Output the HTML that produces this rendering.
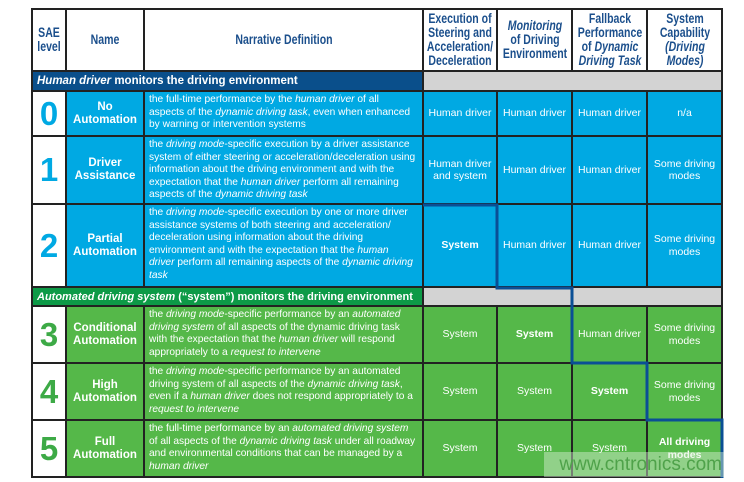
<!DOCTYPE html><html><head><meta charset="utf-8"><style>
body{margin:0;width:744px;height:482px;background:#fff;position:relative;overflow:hidden;font-family:"Liberation Sans",sans-serif}
.c{position:absolute;display:flex;align-items:center;justify-content:center;text-align:center;box-sizing:border-box}
.h{background:#fff;color:#1b4f8c;font-weight:bold;font-size:13.5px;line-height:14px}
.h span{display:inline-block;transform:scaleX(.78);width:92px;flex:none}
.b{background:#00a9e3;color:#fff}
.g{background:#55b849;color:#fff}
.n{background:#fff;font-weight:bold;font-size:33px}
.nm{font-weight:bold;font-size:11.5px;line-height:13px}
.d{justify-content:flex-start;text-align:left;font-size:10.2px;line-height:12.6px;padding:0 4px;align-items:flex-start;padding-top:2px;white-space:nowrap;overflow:hidden}
.v{font-size:10.5px;line-height:12.5px}
.w{font-weight:bold}
</style></head><body>
<div style="position:absolute;left:31px;top:8px;width:692px;height:470px;background:#222"></div>
<div class="c h" style="left:33px;top:10px;width:32px;height:60px"><span style="width:40px">SAE<br>level</span></div>
<div class="c h" style="left:67px;top:10px;width:76px;height:60px"><span>Name</span></div>
<div class="c h" style="left:145px;top:10px;width:277px;height:60px"><span style="width:300px">Narrative Definition</span></div>
<div class="c h" style="left:424px;top:10px;width:72px;height:60px"><span>Execution of Steering and Acceleration/ Deceleration</span></div>
<div class="c h" style="left:498px;top:10px;width:73px;height:60px"><span><i>Monitoring</i><br>of Driving Environment</span></div>
<div class="c h" style="left:573px;top:10px;width:73px;height:60px"><span>Fallback Performance of <i>Dynamic Driving Task</i></span></div>
<div class="c h" style="left:648px;top:10px;width:73px;height:60px"><span>System Capability <i>(Driving Modes)</i></span></div>
<div class="c" style="left:33px;top:72px;width:389px;height:18px;background:#0a4f8b;color:#fff;font-weight:bold;font-size:11.5px;justify-content:flex-start;padding-left:4px"><span><i>Human driver</i> monitors the driving environment</span></div>
<div class="c" style="left:424px;top:72px;width:297px;height:18px;background:#d3d3d3"></div>
<div class="c n" style="left:33px;top:92px;width:32px;height:43px;color:#00a9e3">0</div>
<div class="c b nm" style="left:67px;top:92px;width:76px;height:43px">No<br>Automation</div>
<div class="c b d" style="left:145px;top:92px;width:277px;height:43px"><span>the full-time performance by the <i>human driver</i> of all<br>aspects of the <i>dynamic driving task</i>, even when enhanced<br>by warning or intervention systems</span></div>
<div class="c b v" style="left:424px;top:92px;width:72px;height:43px">Human driver</div>
<div class="c b v" style="left:498px;top:92px;width:73px;height:43px">Human driver</div>
<div class="c b v" style="left:573px;top:92px;width:73px;height:43px">Human driver</div>
<div class="c b v" style="left:648px;top:92px;width:73px;height:43px">n/a</div>
<div class="c n" style="left:33px;top:137px;width:32px;height:66px;color:#00a9e3">1</div>
<div class="c b nm" style="left:67px;top:137px;width:76px;height:66px">Driver<br>Assistance</div>
<div class="c b d" style="left:145px;top:137px;width:277px;height:66px"><span>the <i>driving mode</i>-specific execution by a driver assistance<br>system of either steering or acceleration/deceleration using<br>information about the driving environment and with the<br>expectation that the <i>human driver</i> perform all remaining<br>aspects of the <i>dynamic driving task</i></span></div>
<div class="c b v" style="left:424px;top:137px;width:72px;height:66px">Human driver and system</div>
<div class="c b v" style="left:498px;top:137px;width:73px;height:66px">Human driver</div>
<div class="c b v" style="left:573px;top:137px;width:73px;height:66px">Human driver</div>
<div class="c b v" style="left:648px;top:137px;width:73px;height:66px">Some driving modes</div>
<div class="c n" style="left:33px;top:205px;width:32px;height:81px;color:#00a9e3">2</div>
<div class="c b nm" style="left:67px;top:205px;width:76px;height:81px">Partial<br>Automation</div>
<div class="c b d" style="left:145px;top:205px;width:277px;height:81px"><span>the <i>driving mode</i>-specific execution by one or more driver<br>assistance systems of both steering and acceleration/<br>deceleration using information about the driving<br>environment and with the expectation that the <i>human</i><br><i>driver</i> perform all remaining aspects of the <i>dynamic driving</i><br><i>task</i></span></div>
<div class="c b v w" style="left:424px;top:205px;width:72px;height:81px">System</div>
<div class="c b v" style="left:498px;top:205px;width:73px;height:81px">Human driver</div>
<div class="c b v" style="left:573px;top:205px;width:73px;height:81px">Human driver</div>
<div class="c b v" style="left:648px;top:205px;width:73px;height:81px">Some driving modes</div>
<div class="c" style="left:33px;top:288px;width:389px;height:17px;background:#0d9a47;color:#fff;font-weight:bold;font-size:11px;justify-content:flex-start;padding-left:4px"><span><i>Automated driving system</i> (“system”) monitors the driving environment</span></div>
<div class="c" style="left:424px;top:288px;width:297px;height:17px;background:#d3d3d3"></div>
<div class="c n" style="left:33px;top:307px;width:32px;height:55px;color:#3daa46">3</div>
<div class="c g nm" style="left:67px;top:307px;width:76px;height:55px">Conditional<br>Automation</div>
<div class="c g d" style="left:145px;top:307px;width:277px;height:55px"><span>the <i>driving mode</i>-specific performance by an <i>automated</i><br><i>driving system</i> of all aspects of the dynamic driving task<br>with the expectation that the <i>human driver</i> will respond<br>appropriately to a <i>request to intervene</i></span></div>
<div class="c g v" style="left:424px;top:307px;width:72px;height:55px">System</div>
<div class="c g v w" style="left:498px;top:307px;width:73px;height:55px">System</div>
<div class="c g v" style="left:573px;top:307px;width:73px;height:55px">Human driver</div>
<div class="c g v" style="left:648px;top:307px;width:73px;height:55px">Some driving modes</div>
<div class="c n" style="left:33px;top:364px;width:32px;height:55px;color:#3daa46">4</div>
<div class="c g nm" style="left:67px;top:364px;width:76px;height:55px">High<br>Automation</div>
<div class="c g d" style="left:145px;top:364px;width:277px;height:55px"><span>the <i>driving mode</i>-specific performance by an automated<br>driving system of all aspects of the <i>dynamic driving task</i>,<br>even if a <i>human driver</i> does not respond appropriately to a<br><i>request to intervene</i></span></div>
<div class="c g v" style="left:424px;top:364px;width:72px;height:55px">System</div>
<div class="c g v" style="left:498px;top:364px;width:73px;height:55px">System</div>
<div class="c g v w" style="left:573px;top:364px;width:73px;height:55px">System</div>
<div class="c g v" style="left:648px;top:364px;width:73px;height:55px">Some driving modes</div>
<div class="c n" style="left:33px;top:421px;width:32px;height:55px;color:#3daa46">5</div>
<div class="c g nm" style="left:67px;top:421px;width:76px;height:55px">Full<br>Automation</div>
<div class="c g d" style="left:145px;top:421px;width:277px;height:55px"><span>the full-time performance by an <i>automated driving system</i><br>of all aspects of the <i>dynamic driving task</i> under all roadway<br>and environmental conditions that can be managed by a<br><i>human driver</i></span></div>
<div class="c g v" style="left:424px;top:421px;width:72px;height:55px">System</div>
<div class="c g v" style="left:498px;top:421px;width:73px;height:55px">System</div>
<div class="c g v" style="left:573px;top:421px;width:73px;height:55px">System</div>
<div class="c g v w" style="left:648px;top:421px;width:73px;height:55px">All driving modes</div>
<svg style="position:absolute;left:0;top:0" width="744" height="482"><polyline points="423,205 497,205 497,288 572,288 572,363 647,363 647,420 722,420 722,478" fill="none" stroke="#0a4f95" stroke-width="3"/></svg>
<div style="position:absolute;left:544px;top:452px;width:180px;height:25px;background:rgba(220,240,215,0.45);color:#4fa24a;font-size:19px;line-height:25px;text-align:right;padding-right:2px;box-sizing:border-box">www.cntronics.com</div>
</body></html>
